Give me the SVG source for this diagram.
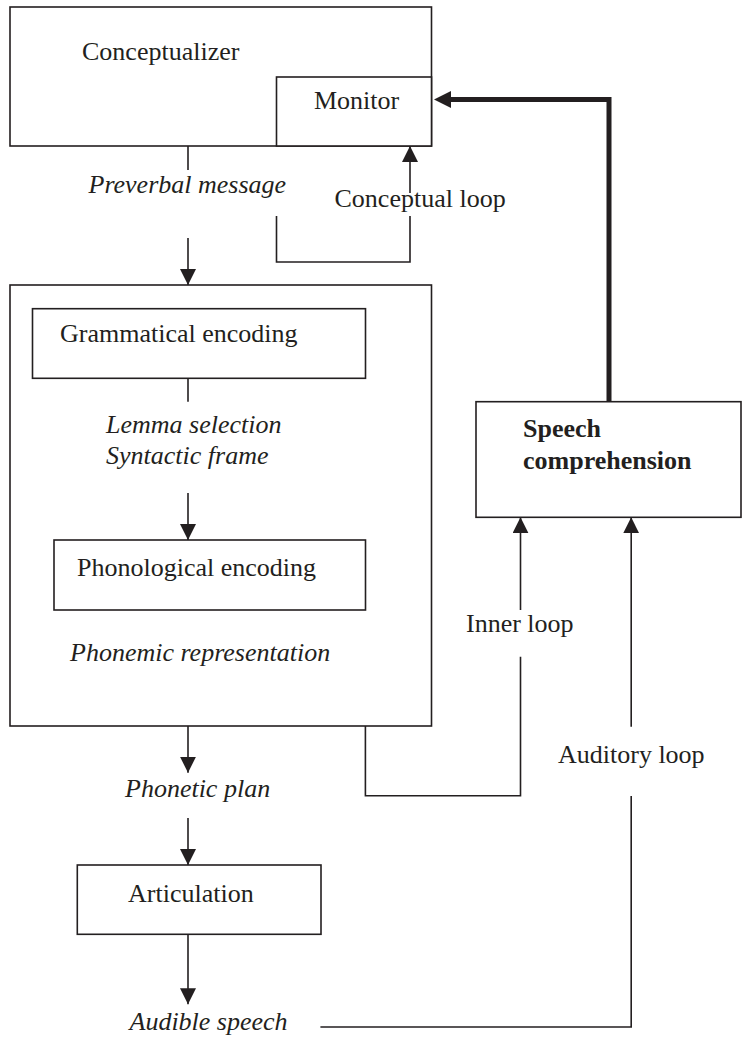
<svg xmlns="http://www.w3.org/2000/svg" width="754" height="1037" viewBox="0 0 754 1037">
<style>
.box{fill:#fff;stroke:#231f20;stroke-width:1.6}
.ln{fill:none;stroke:#231f20;stroke-width:1.6}
.thick{fill:none;stroke:#231f20;stroke-width:5}
text{font-family:"Liberation Serif","Times New Roman",serif;font-size:26px;fill:#231f20}
.it{font-style:italic}
.b{font-weight:bold}
</style>
<defs>
<marker id="ah" viewBox="0 0 16 16" refX="16" refY="8" markerWidth="16" markerHeight="16" markerUnits="userSpaceOnUse" orient="auto">
<path d="M0,0 L16,8 L0,16 z" fill="#231f20"/>
</marker>
<marker id="ahT" viewBox="0 0 17 17" refX="2" refY="8.5" markerWidth="17" markerHeight="17" markerUnits="userSpaceOnUse" orient="auto">
<path d="M0,0 L17,8.5 L0,17 z" fill="#231f20"/>
</marker>
</defs>
<g id="nodes">
<g id="conceptualizer">
<rect class="box" x="10" y="7" width="421.5" height="139"/>
<text x="82" y="60">Conceptualizer</text>
</g>
<g id="monitor">
<rect class="box" x="276.5" y="77" width="155" height="69"/>
<text x="314" y="109">Monitor</text>
</g>
<g id="formulator">
<rect class="box" x="10" y="285" width="421.5" height="441"/>
</g>
<g id="grammatical">
<rect class="box" x="32.5" y="308.7" width="333" height="69.6"/>
<text x="60" y="342">Grammatical encoding</text>
</g>
<g id="phonological">
<rect class="box" x="54" y="540" width="311.5" height="70"/>
<text x="77" y="576">Phonological encoding</text>
</g>
<g id="speech-comprehension">
<rect class="box" x="476" y="401.7" width="265" height="115.6"/>
<text class="b" x="523" y="437">Speech</text>
<text class="b" x="523" y="469">comprehension</text>
</g>
<g id="articulation">
<rect class="box" x="77.3" y="865" width="243.7" height="69.3"/>
<text x="128" y="902">Articulation</text>
</g>
</g>
<g id="labels">
<text class="it" x="88.5" y="193">Preverbal message</text>
<text x="334.5" y="207">Conceptual loop</text>
<text class="it" x="106" y="433">Lemma selection</text>
<text class="it" x="106" y="464">Syntactic frame</text>
<text x="466" y="632">Inner loop</text>
<text class="it" x="70" y="661">Phonemic representation</text>
<text x="558" y="763">Auditory loop</text>
<text class="it" x="125" y="797">Phonetic plan</text>
<text class="it" x="129.5" y="1030">Audible speech</text>
</g>
<g id="connectors">
<path class="ln" d="M188,146 V170"/>
<path class="ln" d="M188,238 V285" marker-end="url(#ah)"/>
<path class="ln" d="M410,193 V146" marker-end="url(#ah)"/>
<path class="ln" d="M410,216 V262 H276.5 V216"/>
<path class="thick" d="M609,401.7 V99.5 H449" marker-end="url(#ahT)"/>
<path class="ln" d="M188,378.3 V401.7"/>
<path class="ln" d="M188,493 V540" marker-end="url(#ah)"/>
<path class="ln" d="M520.5,610 V517.3" marker-end="url(#ah)"/>
<path class="ln" d="M520.5,656.7 V795.7 H365.4 V726"/>
<path class="ln" d="M631.2,726.7 V517.3" marker-end="url(#ah)"/>
<path class="ln" d="M631.2,796 V1027 H320.4"/>
<path class="ln" d="M188,726 V772.7" marker-end="url(#ah)"/>
<path class="ln" d="M188,818 V865" marker-end="url(#ah)"/>
<path class="ln" d="M188,934.3 V1004.3" marker-end="url(#ah)"/>
</g>
</svg>
